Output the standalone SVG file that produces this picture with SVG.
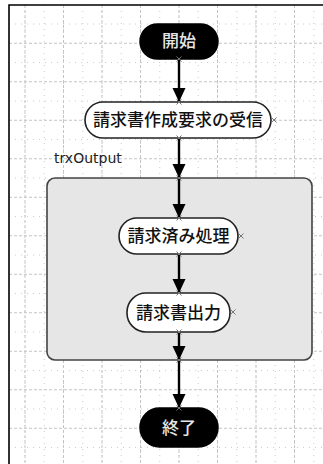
<svg xmlns="http://www.w3.org/2000/svg" xmlns:xlink="http://www.w3.org/1999/xlink" width="323" height="464" viewBox="0 0 323 464">
<style>
.gmaj{stroke:#c4c4c4;stroke-width:1;stroke-dasharray:3 2;fill:none}
.gmin{stroke:#cccccc;stroke-width:1;stroke-dasharray:1 5;fill:none}
.term{fill:#000;stroke:#000;stroke-width:1.5}
.act{fill:#fff;stroke:#222;stroke-width:1.6}
.jp{font-family:"Noto Sans CJK JP","Noto Sans",sans-serif;font-size:17px;text-anchor:middle;font-weight:500}
.tw{fill:#e6e6e6}
.tb{fill:#111}
.conn{stroke:#000;stroke-width:2.4;fill:none;marker-end:url(#ah)}
.xm{stroke:#777;stroke-width:1;fill:none}
</style>
<defs>
<marker id="ah" markerUnits="userSpaceOnUse" markerWidth="14" markerHeight="14" refX="14" refY="6.5" orient="auto">
<path d="M0,0 L14,6.5 L0,13 z" fill="#000"/>
</marker>
<path id="xm" class="xm" d="M-2.5,-2.5 L2.5,2.5 M-2.5,2.5 L2.5,-2.5"/>
</defs>
<rect x="0" y="0" width="323" height="464" fill="#fff"/>
<g id="grid">
<path class="gmin" d="M25,5V464M63.5,5V464M102,5V464M140.5,5V464M179,5V464M217.5,5V464M256,5V464M294.5,5V464"/>
<path class="gmin" d="M44.25,5V464M82.75,5V464M121.25,5V464M159.75,5V464M198.25,5V464M236.75,5V464M275.25,5V464M313.75,5V464"/>
<path class="gmaj" d="M25,5V464M63.5,5V464M102,5V464M140.5,5V464M179,5V464M217.5,5V464M256,5V464M294.5,5V464"/>
<path class="gmin" d="M9,24H323M9,62.5H323M9,101H323M9,139.5H323M9,178H323M9,216.5H323M9,255H323M9,293.5H323M9,332H323M9,370.5H323M9,409H323M9,447.5H323"/>
<path class="gmaj" d="M9,43.25H323M9,81.75H323M9,120.25H323M9,158.75H323M9,197.25H323M9,235.75H323M9,274.25H323M9,312.75H323M9,351.25H323M9,389.75H323M9,428.25H323"/>
</g>
<path d="M9,464V5H323" fill="none" stroke="#000" stroke-width="1.6"/>
<g id="trxOutput">
<rect x="47" y="178" width="265" height="182" rx="8" ry="8" fill="#e6e6e6" stroke="#444" stroke-width="1.6"/>
<text x="54" y="163" font-family="DejaVu Sans, sans-serif" font-size="14" fill="#222">trxOutput</text>
</g>
<g id="start">
<rect class="term" x="140" y="24" width="78" height="35" rx="17.5" ry="17.5"/>
<text class="jp tw" x="179" y="47">開始</text>
</g>
<g id="receive">
<rect class="act" x="85" y="102" width="186" height="36" rx="18" ry="18"/>
<text class="jp tb" x="178" y="126">請求書作成要求の受信</text>
</g>
<g id="billed">
<rect class="act" x="119" y="218" width="119" height="36" rx="18" ry="18"/>
<text class="jp tb" x="178.5" y="242">請求済み処理</text>
</g>
<g id="print">
<rect class="act" x="127" y="293" width="103" height="39" rx="19" ry="19"/>
<text class="jp tb" x="178.5" y="318.5">請求書出力</text>
</g>
<g id="end">
<rect class="term" x="140" y="408" width="78" height="39" rx="19.5" ry="19.5"/>
<text class="jp tw" x="179" y="434">終了</text>
</g>
<g id="connectors">
<path class="conn" d="M179,59V102"/>
<path class="conn" d="M179,138V178"/>
<path class="conn" d="M179,178V218"/>
<path class="conn" d="M179,254V293"/>
<path class="conn" d="M179,332V360"/>
<path class="conn" d="M179,360V408"/>
</g>
<g id="ports">
<use xlink:href="#xm" x="179" y="59"/>
<use xlink:href="#xm" x="179" y="102"/>
<use xlink:href="#xm" x="274" y="120"/>
<use xlink:href="#xm" x="179" y="138"/>
<use xlink:href="#xm" x="179" y="178"/>
<use xlink:href="#xm" x="179" y="218"/>
<use xlink:href="#xm" x="241" y="236"/>
<use xlink:href="#xm" x="179" y="254"/>
<use xlink:href="#xm" x="179" y="293"/>
<use xlink:href="#xm" x="233" y="312"/>
<use xlink:href="#xm" x="179" y="332"/>
<use xlink:href="#xm" x="179" y="360"/>
<use xlink:href="#xm" x="179" y="408"/>
</g>
</svg>
